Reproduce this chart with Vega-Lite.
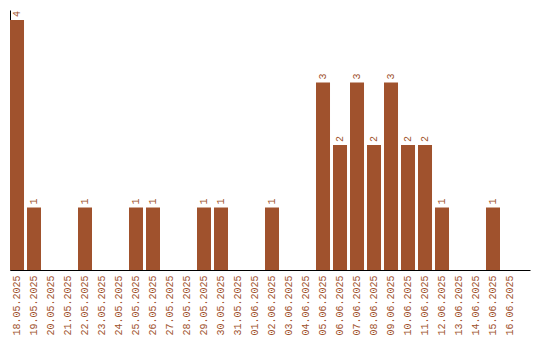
{
  "$schema": "https://vega.github.io/schema/vega-lite/v6.json",
  "width": 520,
  "height": 260,
  "autosize": {"type": "none"},
  "padding": {"left": 10, "top": 10, "right": 10, "bottom": 70},
  "background": "white",
  "config": {"view": {"stroke": null}, "font": "Liberation Mono"},
  "data": {"values": [
    {"date": "18.05.2025", "count": 4},
    {"date": "19.05.2025", "count": 1},
    {"date": "20.05.2025", "count": 0},
    {"date": "21.05.2025", "count": 0},
    {"date": "22.05.2025", "count": 1},
    {"date": "23.05.2025", "count": 0},
    {"date": "24.05.2025", "count": 0},
    {"date": "25.05.2025", "count": 1},
    {"date": "26.05.2025", "count": 1},
    {"date": "27.05.2025", "count": 0},
    {"date": "28.05.2025", "count": 0},
    {"date": "29.05.2025", "count": 1},
    {"date": "30.05.2025", "count": 1},
    {"date": "31.05.2025", "count": 0},
    {"date": "01.06.2025", "count": 0},
    {"date": "02.06.2025", "count": 1},
    {"date": "03.06.2025", "count": 0},
    {"date": "04.06.2025", "count": 0},
    {"date": "05.06.2025", "count": 3},
    {"date": "06.06.2025", "count": 2},
    {"date": "07.06.2025", "count": 3},
    {"date": "08.06.2025", "count": 2},
    {"date": "09.06.2025", "count": 3},
    {"date": "10.06.2025", "count": 2},
    {"date": "11.06.2025", "count": 2},
    {"date": "12.06.2025", "count": 1},
    {"date": "13.06.2025", "count": 0},
    {"date": "14.06.2025", "count": 0},
    {"date": "15.06.2025", "count": 1},
    {"date": "16.06.2025", "count": 0}
  ]},
  "encoding": {
    "x": {
      "field": "date", "type": "nominal", "sort": null,
      "scale": {"paddingInner": 0.176, "paddingOuter": 0.382, "align": 0},
      "axis": {
        "title": null, "labelAngle": -90, "labelColor": "#a0522d",
        "labelFont": "Liberation Mono", "labelFontSize": 10,
        "ticks": false, "labelPadding": 5, "domainColor": "black",
        "domainWidth": 1, "grid": false
      }
    },
    "y": {
      "field": "count", "type": "quantitative",
      "scale": {"domain": [0, 4.16], "nice": false},
      "axis": {"title": null, "labels": false, "ticks": false, "grid": false, "domainColor": "black", "domainWidth": 1}
    }
  },
  "layer": [
    {"mark": {"type": "bar", "color": "#a0522d"}},
    {
      "transform": [{"filter": "datum.count > 0"}],
      "mark": {"type": "text", "angle": -90, "align": "left", "baseline": "middle", "dx": 3, "color": "#a0522d", "font": "Liberation Mono", "fontSize": 10},
      "encoding": {"text": {"field": "count", "type": "quantitative"}}
    }
  ]
}
